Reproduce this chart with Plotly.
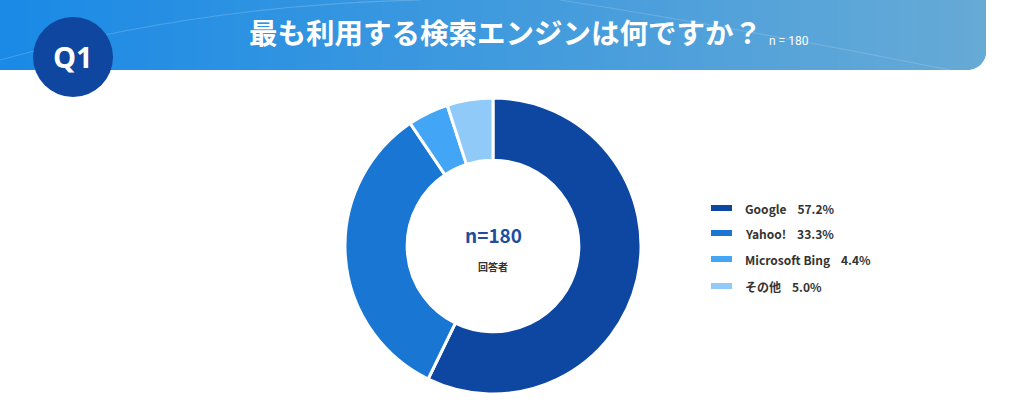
import plotly.graph_objects as go

labels = ["Google", "Yahoo!", "Microsoft Bing", "その他"]
counts = [103, 60, 8, 9]
pct_labels = ["57.2%", "33.3%", "4.4%", "5.0%"]
colors = ["#0d47a1", "#1976d2", "#42a5f5", "#90caf9"]
total_n = 180
title_text = "最も利用する検索エンジンは何ですか？"

W, H = 1024, 414
FONT = "Noto Sans CJK JP"

fig = go.Figure()

# donut: center (493, 246) px, radius 148
cx, cy, r = 493, 246, 148
fig.add_trace(go.Pie(
    labels=labels, values=counts, hole=0.58, sort=False, direction="clockwise",
    rotation=0, textinfo="none", hoverinfo="label+percent",
    marker=dict(colors=colors, line=dict(color="white", width=3)),
    domain=dict(x=[(cx - r) / W, (cx + r) / W], y=[(H - cy - r) / H, (H - cy + r) / H]),
    showlegend=False,
))

shapes = []
annotations = []

# banner gradient
c0 = (0x1a, 0x8a, 0xe6)
c1 = (0x66, 0xaa, 0xd6)
nstrips = 80
bx1 = 986
for i in range(nstrips):
    t = i / (nstrips - 1)
    col = tuple(int(round(c0[k] + (c1[k] - c0[k]) * t)) for k in range(3))
    x0 = bx1 * i / nstrips
    x1 = bx1 * (i + 1) / nstrips + 0.8
    shapes.append(dict(type="rect", xref="paper", yref="paper",
                       x0=x0 / W, x1=min(x1, bx1) / W, y0=(H - 70) / H, y1=1,
                       line=dict(width=0), fillcolor="rgb(%d,%d,%d)" % col, layer="below"))
# faint decorative lines
shapes.append(dict(type="path", xref="paper", yref="paper",
                   path="M 0 %f Q %f %f %f 1" % ((H - 60) / H, 200 / W, (H - 5) / H, 420 / W),
                   line=dict(color="rgba(255,255,255,0.18)", width=1.2), layer="below"))
shapes.append(dict(type="path", xref="paper", yref="paper",
                   path="M %f 1 Q %f %f %f %f" % (560 / W, 750 / W, (H - 30) / H, 950 / W, (H - 70) / H),
                   line=dict(color="rgba(255,255,255,0.15)", width=1.2), layer="below"))
# rounded corner (white patch)
rc = 22
x_r, y_b = bx1, H - 70
shapes.append(dict(type="path", xref="paper", yref="paper",
                   path="M %f %f L %f %f Q %f %f %f %f Z" % (
                       (x_r + 1) / W, (y_b - 0.5) / H,
                       (x_r + 1) / W, (y_b + rc) / H,
                       x_r / W, y_b / H,
                       (x_r - rc) / W, (y_b - 0.5) / H),
                   line=dict(width=0), fillcolor="white", layer="below"))

# Q1 circle
qx, qy, qr = 73, 57, 40
shapes.append(dict(type="circle", xref="paper", yref="paper",
                   x0=(qx - qr) / W, x1=(qx + qr) / W, y0=(H - qy - qr) / H, y1=(H - qy + qr) / H,
                   line=dict(width=0), fillcolor="#0e46a0"))


def ann(text, x, y, size, color, family=FONT, xanchor="center"):
    annotations.append(dict(text=text, x=x / W, y=(H - y) / H, xref="paper", yref="paper",
                            xanchor=xanchor, yanchor="middle", showarrow=False,
                            font=dict(family=family, size=size, color=color)))


ann("<b>Q1</b>", qx, qy, 29, "white", family="Open Sans")

# title
ann("<b>" + title_text + "</b>", 764, 31, 28.5, "white", xanchor="right")
ann("n = %d" % total_n, 767, 41, 12, "white", family="Roboto", xanchor="left")

# center text
ann("<b>n=%d</b>" % total_n, cx, 234, 19, "#1e4f9c")
ann("<b>回答者</b>", cx, 266, 10, "#333333")

# legend
ly = [208, 233, 259, 286]
for lab, pct, col, yy in zip(labels, pct_labels, colors, ly):
    shapes.append(dict(type="rect", xref="paper", yref="paper",
                       x0=711 / W, x1=732 / W, y0=(H - yy - 3) / H, y1=(H - yy + 3) / H,
                       line=dict(width=0), fillcolor=col))
    ann("<b>%s&nbsp;&nbsp;&nbsp;&nbsp;%s</b>" % (lab, pct), 743, yy, 12, "#333333", xanchor="left")

fig.update_layout(width=W, height=H, margin=dict(l=0, r=0, t=0, b=0),
                  paper_bgcolor="white", plot_bgcolor="white",
                  shapes=shapes, annotations=annotations)
fig.write_html("out.html")
